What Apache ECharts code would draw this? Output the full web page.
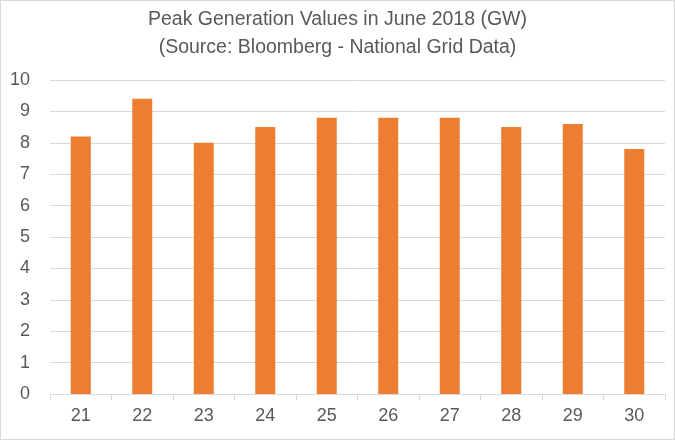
<!DOCTYPE html>
<html><head><meta charset="utf-8">
<script src="https://cdn.jsdelivr.net/npm/echarts@6/dist/echarts.min.js"></script>
<style>html,body{margin:0;padding:0;background:#fff}#c{width:675px;height:440px;box-sizing:border-box;border:1px solid #d9d9d9}</style>
</head><body><div id="c"></div>
<script>
const categories = ['21','22','23','24','25','26','27','28','29','30'];
const values = [8.2, 9.4, 8.0, 8.5, 8.8, 8.8, 8.8, 8.5, 8.6, 7.8];
const titleText = 'Peak Generation Values in June 2018 (GW)\n(Source: Bloomberg - National Grid Data)';
const chart = echarts.init(document.getElementById('c'), null, {renderer:'canvas'});
const font = 'Liberation Sans';
chart.setOption({
  animation:false,
  title:{text:titleText,left:'center',top:0,textStyle:{fontFamily:font,fontSize:19.5,fontWeight:'normal',color:'#595959',lineHeight:28}},
  grid:{left:49,right:9,top:79,bottom:45,containLabel:false},
  xAxis:{type:'category',data:categories,
    axisLine:{lineStyle:{color:'#d9d9d9'}},
    axisTick:{show:true,length:6,lineStyle:{color:'#d9d9d9'}},
    axisLabel:{fontFamily:font,fontSize:18,color:'#595959',margin:13}},
  yAxis:{type:'value',min:0,max:10,interval:1,
    axisLine:{show:false},axisTick:{show:false},
    splitLine:{lineStyle:{color:'#d9d9d9'}},
    axisLabel:{fontFamily:font,fontSize:18,color:'#595959',margin:20}},
  series:[{type:'bar',data:values,barWidth:20,itemStyle:{color:'#ED7D31'}}]
});
</script></body></html>
